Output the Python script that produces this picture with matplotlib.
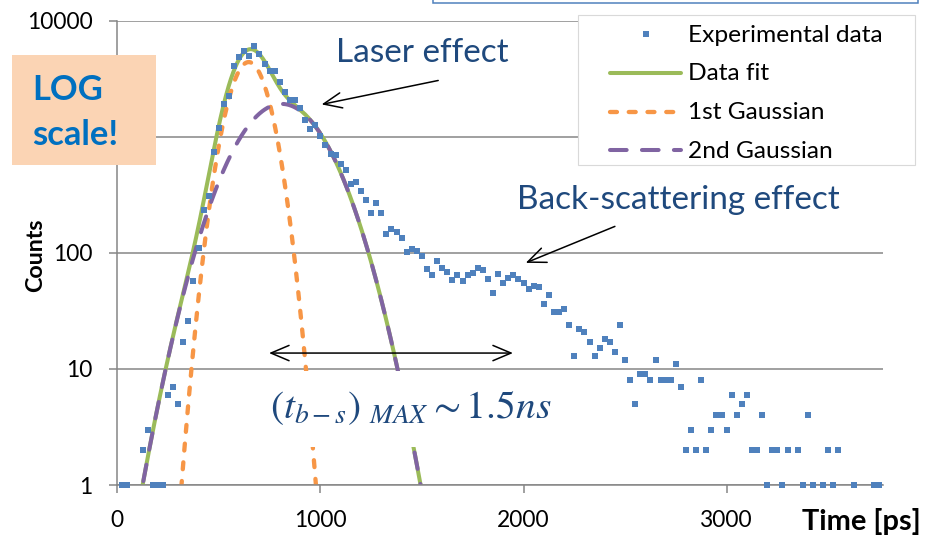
import numpy as np
import matplotlib
matplotlib.use('Agg')
import matplotlib.pyplot as plt
from matplotlib.transforms import Affine2D
from matplotlib.patches import Rectangle
from matplotlib.lines import Line2D

plt.rcParams['font.family'] = ['Lato', 'DejaVu Sans']
plt.rcParams['mathtext.fontset'] = 'stix'
plt.rcParams['lines.scale_dashes'] = False

# ---------------- data ----------------
time_ps = [25, 50, 125, 150, 175, 200, 225, 250, 275, 300, 325, 350, 375, 400, 425, 450,
           475, 500, 525, 550, 575, 600, 625, 650, 675, 700, 725, 750, 775, 800, 825, 850,
           875, 900, 925, 950, 975, 1000, 1025, 1050, 1075, 1100, 1125, 1150, 1175, 1200,
           1225, 1250, 1275, 1300, 1325, 1350, 1375, 1400, 1425, 1450, 1475, 1500, 1525,
           1550, 1575, 1600, 1625, 1650, 1675, 1700, 1725, 1750, 1775, 1800, 1825, 1850,
           1875, 1900, 1925, 1950, 1975, 2000, 2025, 2050, 2075, 2100, 2125, 2150, 2175,
           2200, 2225, 2250, 2275, 2300, 2325, 2350, 2375, 2400, 2425, 2450, 2475, 2500,
           2525, 2550, 2575, 2600, 2625, 2650, 2675, 2700, 2725, 2750, 2775, 2800, 2825,
           2850, 2875, 2900, 2925, 2950, 2975, 3000, 3025, 3050, 3075, 3100, 3125, 3150,
           3175, 3200, 3225, 3250, 3275, 3300, 3350, 3375, 3400, 3425, 3475, 3500, 3525,
           3550, 3625, 3725, 3750]
counts = [1, 1, 2, 3, 1, 1, 1, 6, 7, 5, 17, 26, 57, 110, 233, 308,
          738, 1195, 1900, 2240, 4100, 4900, 5470, 5010, 6000, 5120, 4260, 3675, 3675, 2960, 2425, 2057,
          2057, 1780, 1383, 1158, 1253, 1008, 843, 705, 700, 586, 515, 395, 408, 341,
          287, 220, 271, 220, 144, 160, 152, 135, 101, 109, 103, 94, 73,
          65, 85, 74, 69, 58, 64, 57, 65, 67, 74, 71, 60, 45,
          66, 55, 61, 64, 60, 55, 49, 52, 51, 36, 43, 31, 31,
          33, 24, 13, 22, 21, 17, 13, 15, 18, 17, 14, 24, 12,
          8, 5, 9, 9, 8, 12, 8, 8, 8, 11, 7, 2, 3,
          2, 8, 2, 3, 4, 4, 3, 6, 4, 5, 6, 2, 2,
          4, 1, 2, 2, 1, 2, 2, 1, 4, 1, 1, 2, 1,
          2, 1, 1, 1]

# Gaussian fit parameters (amplitude, centre [ps], sigma [ps])
gauss1 = (4400, 647, 80.8)
gauss2 = (1920, 809, 176)

x_ticks = [0, 1000, 2000, 3000]
x_tick_labels = ['0', '1000', '2000', '3000']
y_ticks = [1, 10, 100, 1000, 10000]
y_tick_labels = ['1', '10', '100', '1000', '10000']
legend_labels = ['Experimental data', 'Data fit', '1st Gaussian', '2nd Gaussian']

C_DATA = '#4F81BD'
C_FIT = '#9BBB59'
C_G1 = '#F79646'
C_G2 = '#8064A2'
C_GRID = '#868686'
C_TXT = '#1F497D'

# ---------------- figure ----------------
W, H = 934, 543
fig = plt.figure(figsize=(W / 100, H / 100), dpi=100)
pxT = Affine2D().scale(1 / W, -1 / H).translate(0, 1) + fig.transFigure
renderer = fig.canvas.get_renderer()


def fit_fs(s, target, weight='normal', base=20):
    t = fig.text(0, 0, s, fontsize=base, fontweight=weight)
    w = t.get_window_extent(renderer=renderer).width
    t.remove()
    return base * target / w


x0, x1, ytop, ybot = 117.3, 883.0, 20.7, 485.0
ax = fig.add_axes([x0 / W, 1 - ybot / H, (x1 - x0) / W, (ybot - ytop) / H])
ax.set_yscale('log')
ax.set_xlim(0, 3770)
ax.set_ylim(1, 10000)

t_fit = np.linspace(0, 3770, 3000)
g1 = gauss1[0] * np.exp(-(t_fit - gauss1[1]) ** 2 / (2 * gauss1[2] ** 2))
g2 = gauss2[0] * np.exp(-(t_fit - gauss2[1]) ** 2 / (2 * gauss2[2] ** 2))

style_fit = dict(color=C_FIT, lw=2.9, solid_capstyle='round')
style_g1 = dict(color=C_G1, lw=3.1, dashes=(5.0, 8.5), dash_capstyle='round')
style_g2 = dict(color=C_G2, lw=2.9, dashes=(12, 11), dash_capstyle='round')
style_data = dict(color=C_DATA, marker='s', ms=4.7, mew=0, linestyle='none')

ax.plot(t_fit, g1 + g2, zorder=2, **style_fit)
ax.plot(t_fit, g1, zorder=2.1, **style_g1)
ax.plot(t_fit, g2, zorder=2.2, **style_g2)
ax.plot(time_ps, counts, zorder=4, clip_on=False, **style_data)

# axes styling
for s in ['top', 'right']:
    ax.spines[s].set_visible(False)
for s in ['left', 'bottom']:
    ax.spines[s].set_color(C_GRID)
    ax.spines[s].set_linewidth(1.1)
ax.yaxis.grid(True, color=C_GRID, lw=1.1)
ax.set_axisbelow(True)
ax.minorticks_off()
ax.set_xticks(x_ticks)
ax.set_xticklabels(x_tick_labels)
ax.set_yticks(y_ticks)
ax.set_yticklabels(y_tick_labels)
ax.yaxis.set_minor_locator(matplotlib.ticker.NullLocator())
fs_tick = fit_fs('10000', 66)
ax.tick_params(axis='both', colors=C_GRID, labelcolor='black', labelsize=fs_tick,
               length=5.8, width=1.1, direction='out')
ax.tick_params(axis='y', pad=12)
ax.tick_params(axis='x', pad=12)
# the "1000" label sits underneath the "LOG scale!" note in the original
for lab in ax.get_yticklabels():
    if lab.get_text() == '1000':
        lab.set_visible(False)

# axis titles
fs_counts = fit_fs('Counts', 74, 'bold')
fig.text(42, 255, 'Counts', transform=pxT, rotation=90, rotation_mode='anchor',
         ha='center', va='baseline', fontsize=fs_counts, fontweight='bold')
fs_time = fit_fs('Time [ps]', 119, 'bold')
fig.text(802, 530, 'Time [ps]', transform=pxT, ha='left', va='baseline',
         fontsize=fs_time, fontweight='bold')

# white box behind formula
ax.add_patch(Rectangle((262, 447), 300, -76, transform=pxT, facecolor='white',
                       edgecolor='none', zorder=3))
formula = r'$(t_{b-s})\;{}_{MAX}{\sim}1.5ns$'
fs_form = fit_fs(formula, 282)
fig.text(270, 418, formula, transform=pxT, ha='left', va='baseline',
         fontsize=fs_form, color=C_TXT, zorder=6)

# annotations
fs_ann = fit_fs('Back-scattering effect', 324)
fig.text(336, 62, 'Laser effect', transform=pxT, ha='left', va='baseline',
         fontsize=fs_ann, color=C_TXT)
fig.text(517, 209, 'Back-scattering effect', transform=pxT, ha='left', va='baseline',
         fontsize=fs_ann, color=C_TXT)

arrow = dict(arrowstyle='->,head_length=1.3,head_width=0.55', color='black', lw=1.1,
             shrinkA=0, shrinkB=0, mutation_scale=10)
ax.annotate('', xy=(1006, 1900), xytext=(1580, 3055), arrowprops=arrow, annotation_clip=False)
ax.annotate('', xy=(2011, 82), xytext=(2450, 169), arrowprops=arrow, annotation_clip=False)
darrow = dict(arrowstyle='<->,head_length=1.3,head_width=0.55', color='black', lw=1.1,
              shrinkA=0, shrinkB=0, mutation_scale=10)
ax.annotate('', xy=(747, 13.7), xytext=(1948, 13.7), arrowprops=darrow, annotation_clip=False)

# LOG scale box
fig.add_artist(Rectangle((12, 165), 144, -110, transform=pxT, facecolor='#FBD4B4',
                         edgecolor='none', zorder=5))
fs_log = fit_fs('scale!', 86, 'bold')
fig.text(32, 100, 'LOG', transform=pxT, fontsize=fs_log, fontweight='bold',
         color='#0070C0', ha='left', va='baseline', zorder=6)
fig.text(32, 145, 'scale!', transform=pxT, fontsize=fs_log, fontweight='bold',
         color='#0070C0', ha='left', va='baseline', zorder=6)

# partial text box at the top
fig.add_artist(Rectangle((433, 3), 485, -20, transform=pxT, facecolor='white',
                         edgecolor='#4F81BD', lw=1.1, zorder=5))

# legend (drawn manually in pixel coordinates)
fig.add_artist(Rectangle((578, 165), 337, -150, transform=pxT, facecolor='white',
                         edgecolor='#D9D9D9', lw=0.8, zorder=5))
fs_leg = fit_fs(legend_labels[0], 195)
row_mid = [34.3, 72.7, 111.7, 150]
row_base = [42.5, 80.5, 119.3, 157.5]
handles = [
    Line2D([645.5], [row_mid[0]], transform=pxT, zorder=6, **style_data),
    Line2D([610, 681], [row_mid[1]] * 2, transform=pxT, zorder=6, **style_fit),
    Line2D([610, 681], [row_mid[2]] * 2, transform=pxT, zorder=6, **style_g1),
    Line2D([610, 681], [row_mid[3]] * 2, transform=pxT, zorder=6, **style_g2),
]
for h, lab, yb in zip(handles, legend_labels, row_base):
    fig.add_artist(h)
    fig.text(688, yb, lab, transform=pxT, ha='left', va='baseline', fontsize=fs_leg, zorder=6)

fig.savefig('out.png', dpi=100)
